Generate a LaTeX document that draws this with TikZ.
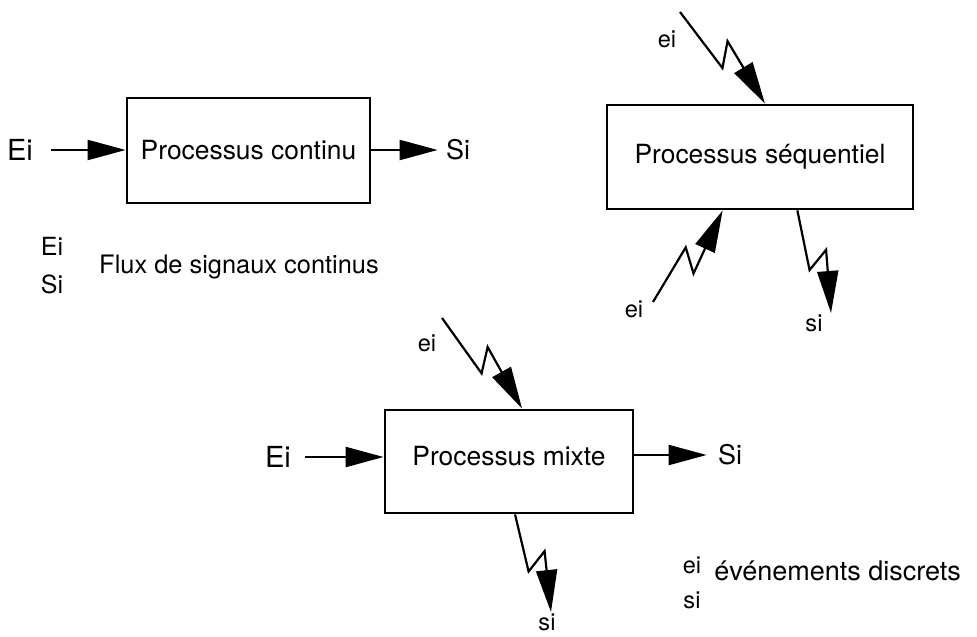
\documentclass[tikz,border=0pt]{standalone}
\usepackage{fontspec}
\setmainfont{TeX Gyre Heros}
\usetikzlibrary{arrows.meta,calc}
\begin{document}
\begin{tikzpicture}[x=0.5pt,y=-0.5pt,
  proc/.style={draw,line width=1.4pt,inner sep=0pt,font=\fontsize{13.2}{15}\selectfont},
  lbl/.style={inner sep=0pt,font=\fontsize{13.5}{15}\selectfont},
  small/.style={inner sep=0pt,font=\fontsize{11.8}{14}\selectfont},
  flow/.style={line width=1.1pt,-{Triangle[length=19pt,width=10pt]}},
  event/.style={line width=1.1pt,-{Triangle[length=21pt,width=10.5pt]}},
  % lightning-bolt connector: forward, kick back, forward again
  boltR/.style={to path={-- ($(\tikztostart)!0.56!(\tikztotarget)!3.5pt!-90:(\tikztotarget)$)
      -- ($(\tikztostart)!0.43!(\tikztotarget)!7.5pt!90:(\tikztotarget)$) -- (\tikztotarget)}},
  boltL/.style={to path={-- ($(\tikztostart)!0.55!(\tikztotarget)!3.5pt!90:(\tikztotarget)$)
      -- ($(\tikztostart)!0.41!(\tikztotarget)!7.5pt!-90:(\tikztotarget)$) -- (\tikztotarget)}},
]
\useasboundingbox (0,0) rectangle (977,636);

% process blocks
\node[proc,minimum width=121.5pt,minimum height=52.5pt] (box1) at (248.5,150.5) {Processus continu};
\node[proc,minimum width=153pt,minimum height=52pt] (box2) at (760,157) {Processus séquentiel};
\node[proc,minimum width=124pt,minimum height=51.5pt,text depth=6pt] (box3) at (509,461.5) {Processus mixte};

% continuous signals
\node[lbl,font=\fontsize{14.5}{16}\selectfont] (ei1) at (20,150) {Ei};
\node[lbl] (si1) at (458,150) {Si};
\node[lbl,font=\fontsize{14.5}{16}\selectfont] (ei3) at (278,457) {Ei};
\node[lbl] (si3) at (730,455) {Si};

\draw[flow] ([xshift=9pt]ei1.east) -- (ei1 -| box1.west);
\draw[flow] (box1.east |- si1) -- ([xshift=-4pt]si1.west);
\draw[flow] ([xshift=7pt]ei3.east) -- (ei3 -| box3.west);
\draw[flow] (box3.east |- si3) -- ([xshift=-5.5pt]si3.west);

% discrete events
\node[small] (e2a) at (667,39) {ei};
\node[small] (e2b) at (634,309) {ei};
\node[small] (s2) at (814,323) {si};
\node[small] (e3) at (427,343) {ei};
\node[small] (s3) at (547,622) {si};

\coordinate (a2) at (680,12);
\coordinate (b2) at (653,302);
\coordinate (c2) at (831,313);
\coordinate (a3) at (442,318);
\coordinate (c3) at (551,612);
\coordinate (t2) at ($(box2.north west)!0.516!(box2.north east)$);
\coordinate (u2) at ($(box2.south west)!0.379!(box2.south east)$);
\coordinate (v2) at ($(box2.south west)!0.621!(box2.south east)$);
\coordinate (t3) at ($(box3.north west)!0.552!(box3.north east)$);
\coordinate (v3) at ($(box3.south west)!0.524!(box3.south east)$);

\draw[event] (a2) to[boltR] (t2);
\draw[event] (b2) to[boltL] (u2);
\draw[event] (v2) to[boltR] (c2);
\draw[event] (a3) to[boltR] (t3);
\draw[event] (v3) to[boltR] (c3);

% legends
\node[inner sep=0pt,font=\fontsize{12.5}{14}\selectfont] (lgE) at (52,246) {Ei};
\node[inner sep=0pt,font=\fontsize{12.5}{14}\selectfont] (lgS) at (52,284) {Si};
\node[inner sep=0pt,font=\fontsize{12.7}{15}\selectfont] (lgF) at (239,267) {Flux de signaux continus};
\node[small] (lge) at (692,565) {ei};
\node[small] (lgs) at (692,600) {si};
\node[inner sep=0pt,anchor=base west,font=\fontsize{13.5}{16}\selectfont] (lgD) at (714,580) {événements discrets};
\end{tikzpicture}
\end{document}
